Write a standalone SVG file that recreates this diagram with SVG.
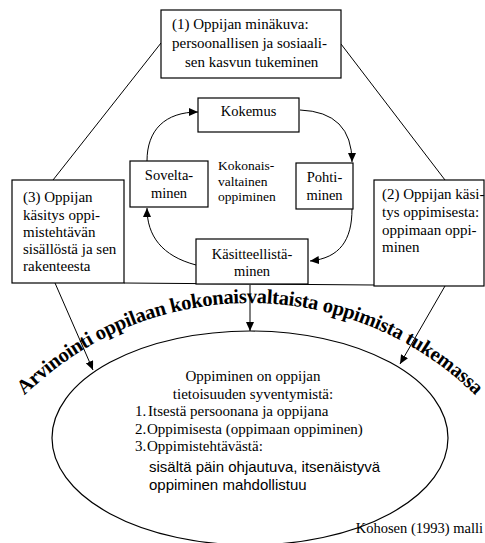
<svg xmlns="http://www.w3.org/2000/svg" width="485" height="543" viewBox="0 0 485 543">
<defs>
<style>
.box{fill:#fff;stroke:#000;stroke-width:1.2}
.ln{fill:none;stroke:#000;stroke-width:1}
.t{font-family:"Liberation Serif","Times New Roman",serif;font-size:15px;fill:#000}
.cy{font-size:14.5px;text-anchor:middle}
.ctr{font-size:13.5px}
.el{font-size:15px}
.sans{font-family:"Liberation Sans",Arial,sans-serif;font-size:15px}
.arc{font-family:"Liberation Serif","Times New Roman",serif;font-weight:bold;font-size:20.5px;fill:#000}
</style>
<marker id="ah" markerWidth="10" markerHeight="8" refX="9" refY="4" orient="auto" markerUnits="userSpaceOnUse"><path d="M0,0 L9,4 L0,8 z" fill="#000"/></marker>
<path id="arcPath" d="M19.1,401 A321,321 0 0 1 480.9,401"/>
</defs>
<rect width="485" height="543" fill="#fff"/>

<g id="ellipse-node">
<ellipse cx="250" cy="438" rx="198" ry="107" fill="none" stroke="#000" stroke-width="1.2"/>
<g class="t el">
<text x="253" y="380.5" text-anchor="middle">Oppiminen on oppijan</text>
<text x="253" y="398.5" text-anchor="middle">tietoisuuden syventymistä:</text>
<text y="416"><tspan x="135">1.</tspan><tspan x="148">Itsestä persoonana ja oppijana</tspan></text>
<text y="433.5"><tspan x="135">2.</tspan><tspan x="147">Oppimisesta (oppimaan oppiminen)</tspan></text>
<text y="451"><tspan x="135">3.</tspan><tspan x="147">Oppimistehtävästä:</tspan></text>
</g>
<g class="t sans">
<text x="149" y="471.5">sisältä päin ohjautuva, itsenäistyvä</text>
<text x="149" y="489.5">oppiminen mahdollistuu</text>
</g>
</g>

<g id="connectors">
<line class="ln" x1="161" y1="43" x2="53" y2="180"/>
<line class="ln" x1="341" y1="44" x2="445" y2="180"/>
<line class="ln" x1="124" y1="283" x2="374" y2="285"/>
<line class="ln" x1="250" y1="285" x2="250" y2="331" marker-end="url(#ah)"/>
<line class="ln" x1="55" y1="283" x2="93" y2="370" marker-end="url(#ah)"/>
<line class="ln" x1="445" y1="286" x2="400" y2="364" marker-end="url(#ah)"/>
<path class="ln" d="M300,110 Q352,112 352,162" marker-end="url(#ah)"/>
<path class="ln" d="M352,209 C352,240 340,258 310,261" marker-end="url(#ah)"/>
<path class="ln" d="M196,265 C162,256 147,236 147,208" marker-end="url(#ah)"/>
<path class="ln" d="M147,161 C147,130 165,112 198,112" marker-end="url(#ah)"/>
</g>

<g id="box1">
<rect class="box" x="161" y="10" width="180" height="68"/>
<g class="t">
<text x="172" y="29">(1) Oppijan minäkuva:</text>
<text x="172" y="48">persoonallisen ja sosiaali-</text>
<text x="185" y="67">sen kasvun tukeminen</text>
</g>
</g>

<g id="box2">
<rect class="box" x="374" y="180" width="110" height="106"/>
<g class="t">
<text x="382" y="199">(2) Oppijan käsi-</text>
<text x="382" y="217">tys oppimisesta:</text>
<text x="382" y="235">oppimaan oppi-</text>
<text x="382" y="252">minen</text>
</g>
</g>

<g id="box3">
<rect class="box" x="12" y="180" width="112" height="103"/>
<g class="t">
<text x="23" y="202">(3) Oppijan</text>
<text x="23" y="219.5">käsitys oppi-</text>
<text x="23" y="237">mistehtävän</text>
<text x="23" y="254">sisällöstä ja sen</text>
<text x="23" y="271">rakenteesta</text>
</g>
</g>

<g id="kokemus">
<rect class="box" x="198" y="98" width="101" height="34"/>
<text class="t cy" x="248.5" y="116">Kokemus</text>
</g>

<g id="pohtiminen">
<rect class="box" x="296" y="163" width="57" height="46"/>
<text class="t cy" x="324.5" y="181.5">Pohti-</text>
<text class="t cy" x="324.5" y="199.5">minen</text>
</g>

<g id="kasitteellistaminen">
<rect class="box" x="196" y="239" width="112" height="45"/>
<text class="t cy" x="252" y="258.5">Käsitteellistä-</text>
<text class="t cy" x="252" y="275.5">minen</text>
</g>

<g id="soveltaminen">
<rect class="box" x="130" y="161" width="78" height="46"/>
<text class="t cy" x="169" y="180">Sovelta-</text>
<text class="t cy" x="169" y="198">minen</text>
</g>

<g id="center-label" class="t ctr">
<text x="218" y="170">Kokonais-</text>
<text x="218" y="186">valtainen</text>
<text x="218" y="201">oppiminen</text>
</g>

<g id="arc-label">
<text class="arc"><textPath href="#arcPath" startOffset="50%" text-anchor="middle" textLength="500">Arvinointi oppilaan kokonaisvaltaista oppimista tukemassa</textPath></text>
</g>

<text class="t" x="483" y="533" text-anchor="end" style="font-size:14.5px">Kohosen (1993) malli</text>
</svg>
